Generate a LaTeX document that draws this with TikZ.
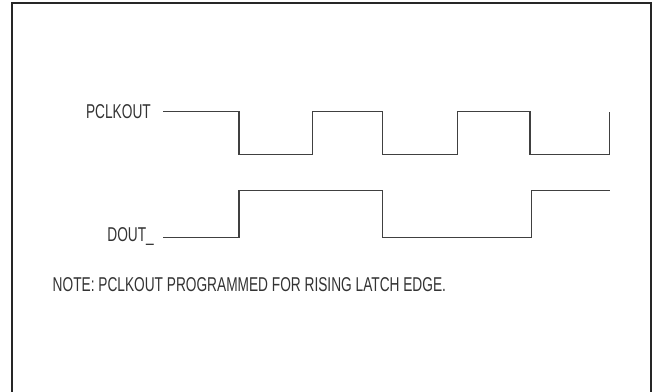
\documentclass[tikz,border=0pt]{standalone}
\usepackage{fontspec}
\newfontfamily\condfont[FakeStretch=0.685]{Liberation Sans}
\begin{document}
\begin{tikzpicture}[x=1pt,y=-1pt,
  lbl/.style={font=\condfont\fontsize{20}{22}\selectfont, text=black!80, inner sep=0pt},
  wave/.style={draw=black!75, line width=1.1pt, line join=miter},
  frame/.style={draw=black!85, line width=2pt}]
\useasboundingbox (0,0) rectangle (652,391);
\draw[frame] (11.5,395) -- (11.5,3) -- (650.8,3) -- (650.8,395);
% labels
\node[lbl, anchor=base east] (pclk) at (151,118) {PCLKOUT};
\node[lbl, anchor=base east] (dout) at (154,241.5) {DOUT\_};
\node[lbl, anchor=base west] (note) at (52.5,291.5) {NOTE: PCLKOUT PROGRAMMED FOR RISING LATCH EDGE.};
% PCLKOUT waveform
\coordinate (p0) at (163.3,111.7);
\draw[wave] (p0) -- (239,111.7) -- (239,154.3) -- (312.5,154.3) -- (312.5,111.7)
  -- (382.7,111.7) -- (382.7,154.3) -- (457.7,154.3) -- (457.7,111.7)
  -- (530,111.7) -- (530,154.3) -- (609.7,154.3) -- (609.7,111.7);
% DOUT_ waveform
\coordinate (d0) at (163.3,237.7);
\draw[wave] (d0) -- (239,237.7) -- (239,190.7) -- (382.7,190.7) -- (382.7,237.7)
  -- (531.7,237.7) -- (531.7,190.7) -- (610,190.7);
\end{tikzpicture}
\end{document}
